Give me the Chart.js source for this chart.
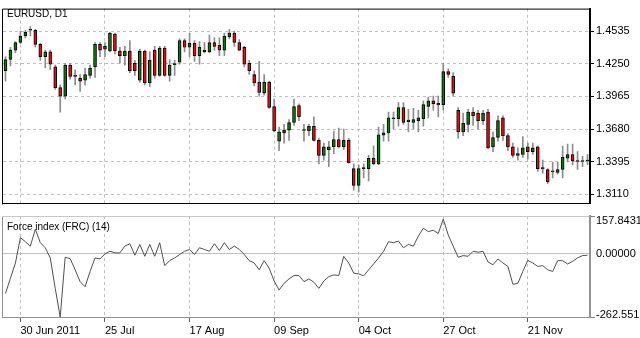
<!DOCTYPE html>
<html>
<head>
<meta charset="utf-8">
<script src="https://cdn.jsdelivr.net/npm/chart.js@4.4.0/dist/chart.umd.min.js"></script>
<style>
  html, body { margin: 0; padding: 0; background: #fff; }
  #wrap { position: relative; width: 640px; height: 338px; overflow: hidden; font-family: 'Liberation Sans', Arial, sans-serif; }
  canvas { position: absolute; left: 0; }
  #main { top: 0; }
  #sub { top: 212px; }
  .title { position: absolute; left: 7px; font-size: 10px; line-height: 12px; color: #000; white-space: nowrap; }
</style>
</head>
<body>
<div id="wrap">
  <canvas id="main" width="640" height="212"></canvas>
  <canvas id="sub" width="640" height="126"></canvas>
  <div class="title" style="top:8px">EURUSD, D1</div>
  <div class="title" style="top:221px">Force index (FRC) (14)</div>
</div>
<script>
// Daily bars, 27 Jun - 07 Dec 2011
const days = [
    '27 Jun', '28 Jun', '29 Jun', '30 Jun',
    '01 Jul', '04 Jul', '05 Jul', '06 Jul', '07 Jul', '08 Jul', '11 Jul', '12 Jul', '13 Jul', '14 Jul', '15 Jul',
    '18 Jul', '19 Jul', '20 Jul', '21 Jul', '22 Jul', '25 Jul', '26 Jul', '27 Jul', '28 Jul', '29 Jul',
    '01 Aug', '02 Aug', '03 Aug', '04 Aug', '05 Aug', '08 Aug', '09 Aug', '10 Aug', '11 Aug', '12 Aug',
    '15 Aug', '16 Aug', '17 Aug', '18 Aug', '19 Aug', '22 Aug', '23 Aug', '24 Aug', '25 Aug', '26 Aug', '29 Aug', '30 Aug', '31 Aug',
    '01 Sep', '02 Sep', '05 Sep', '06 Sep', '07 Sep', '08 Sep', '09 Sep', '12 Sep', '13 Sep', '14 Sep', '15 Sep', '16 Sep',
    '19 Sep', '20 Sep', '21 Sep', '22 Sep', '23 Sep', '26 Sep', '27 Sep', '28 Sep', '29 Sep', '30 Sep',
    '03 Oct', '04 Oct', '05 Oct', '06 Oct', '07 Oct', '10 Oct', '11 Oct', '12 Oct', '13 Oct', '14 Oct',
    '17 Oct', '18 Oct', '19 Oct', '20 Oct', '21 Oct', '24 Oct', '25 Oct', '26 Oct', '27 Oct', '28 Oct', '31 Oct',
    '01 Nov', '02 Nov', '03 Nov', '04 Nov', '07 Nov', '08 Nov', '09 Nov', '10 Nov', '11 Nov',
    '14 Nov', '15 Nov', '16 Nov', '17 Nov', '18 Nov', '21 Nov', '22 Nov', '23 Nov', '24 Nov', '25 Nov', '28 Nov', '29 Nov', '30 Nov',
    '01 Dec', '02 Dec', '05 Dec', '06 Dec', '07 Dec'
];

const opens = [
    1.4189, 1.4287, 1.4369, 1.4435, 1.4492, 1.4542, 1.4542, 1.4419, 1.4312, 1.4353,
    1.4222, 1.4041, 1.3967, 1.4238, 1.4143, 1.4123, 1.4107, 1.4148, 1.4222, 1.4419,
    1.4402, 1.4361, 1.4509, 1.4361, 1.4320, 1.4361, 1.4254, 1.4107, 1.4361, 1.4082,
    1.4369, 1.4148, 1.4386, 1.4148, 1.4242, 1.4263, 1.4451, 1.4394, 1.4427, 1.4320,
    1.4369, 1.4353, 1.4435, 1.4410, 1.4369, 1.4484, 1.4517, 1.4435, 1.4394, 1.4254,
    1.4156, 1.4090, 1.3992, 1.4090, 1.3877, 1.3573, 1.3647, 1.3671, 1.3737, 1.3885,
    1.3667, 1.3663, 1.3704, 1.3581, 1.3450, 1.3499, 1.3524, 1.3589, 1.3524, 1.3581,
    1.3335, 1.3187, 1.3335, 1.3335, 1.3425, 1.3376, 1.3626, 1.3647, 1.3770, 1.3770,
    1.3868, 1.3745, 1.3737, 1.3754, 1.3770, 1.3877, 1.3926, 1.3904, 1.3893, 1.4181,
    1.4139, 1.3844, 1.3655, 1.3721, 1.3827, 1.3819, 1.3754, 1.3827, 1.3524, 1.3606,
    1.3778, 1.3622, 1.3524, 1.3450, 1.3458, 1.3524, 1.3483, 1.3524, 1.3343, 1.3327,
    1.3306, 1.3302, 1.3327, 1.3425, 1.3458, 1.3401, 1.3397, 1.3401
];
const highs = [
    1.4312, 1.4394, 1.4443, 1.4534, 1.4542, 1.4575, 1.4550, 1.4427, 1.4369, 1.4369,
    1.4238, 1.4066, 1.4254, 1.4254, 1.4197, 1.4156, 1.4213, 1.4238, 1.4435, 1.4435,
    1.4435, 1.4525, 1.4517, 1.4394, 1.4402, 1.4451, 1.4279, 1.4378, 1.4369, 1.4353,
    1.4402, 1.4402, 1.4402, 1.4287, 1.4279, 1.4468, 1.4468, 1.4517, 1.4451, 1.4443,
    1.4435, 1.4501, 1.4476, 1.4476, 1.4517, 1.4550, 1.4534, 1.4460, 1.4402, 1.4279,
    1.4189, 1.4271, 1.4156, 1.4098, 1.3942, 1.3696, 1.3721, 1.3762, 1.3942, 1.3901,
    1.3721, 1.3721, 1.3786, 1.3598, 1.3557, 1.3573, 1.3663, 1.3688, 1.3680, 1.3598,
    1.3376, 1.3368, 1.3376, 1.3450, 1.3532, 1.3696, 1.3721, 1.3827, 1.3827, 1.3910,
    1.3910, 1.3852, 1.3860, 1.3844, 1.3926, 1.3959, 1.3967, 1.3967, 1.4254, 1.4205,
    1.4172, 1.3868, 1.3819, 1.3852, 1.3868, 1.3844, 1.3844, 1.3852, 1.3655, 1.3795,
    1.3795, 1.3639, 1.3557, 1.3515, 1.3614, 1.3557, 1.3557, 1.3532, 1.3409, 1.3335,
    1.3392, 1.3392, 1.3532, 1.3548, 1.3548, 1.3483, 1.3442, 1.3458
];
const lows = [
    1.4098, 1.4230, 1.4345, 1.4427, 1.4476, 1.4492, 1.4394, 1.4279, 1.4213, 1.4197,
    1.4025, 1.3827, 1.3942, 1.4115, 1.4066, 1.4008, 1.4066, 1.4123, 1.4131, 1.4312,
    1.4312, 1.4353, 1.4336, 1.4254, 1.4238, 1.4172, 1.4148, 1.4090, 1.4066, 1.4049,
    1.4123, 1.4139, 1.4139, 1.4098, 1.4148, 1.4246, 1.4353, 1.4312, 1.4271, 1.4246,
    1.4345, 1.4345, 1.4369, 1.4320, 1.4320, 1.4468, 1.4402, 1.4361, 1.4222, 1.4156,
    1.4057, 1.3967, 1.3975, 1.3860, 1.3655, 1.3491, 1.3557, 1.3581, 1.3712, 1.3754,
    1.3573, 1.3622, 1.3573, 1.3376, 1.3409, 1.3351, 1.3466, 1.3515, 1.3499, 1.3384,
    1.3146, 1.3130, 1.3253, 1.3228, 1.3368, 1.3368, 1.3573, 1.3573, 1.3680, 1.3704,
    1.3721, 1.3655, 1.3680, 1.3655, 1.3704, 1.3778, 1.3844, 1.3786, 1.3844, 1.4131,
    1.3967, 1.3598, 1.3622, 1.3655, 1.3712, 1.3680, 1.3721, 1.3507, 1.3483, 1.3573,
    1.3581, 1.3491, 1.3433, 1.3409, 1.3433, 1.3417, 1.3458, 1.3310, 1.3294, 1.3203,
    1.3253, 1.3286, 1.3253, 1.3392, 1.3368, 1.3327, 1.3351, 1.3368
];
const closes = [
    1.4287, 1.4369, 1.4435, 1.4492, 1.4525, 1.4546, 1.4419, 1.4312, 1.4353, 1.4246,
    1.4041, 1.3967, 1.4238, 1.4139, 1.4139, 1.4098, 1.4156, 1.4213, 1.4419, 1.4369,
    1.4378, 1.4517, 1.4361, 1.4320, 1.4361, 1.4189, 1.4189, 1.4361, 1.4082, 1.4279,
    1.4148, 1.4386, 1.4148, 1.4238, 1.4246, 1.4451, 1.4394, 1.4427, 1.4320, 1.4394,
    1.4353, 1.4435, 1.4402, 1.4369, 1.4492, 1.4517, 1.4435, 1.4369, 1.4246, 1.4189,
    1.4082, 1.4000, 1.4090, 1.3868, 1.3663, 1.3655, 1.3671, 1.3737, 1.3877, 1.3786,
    1.3671, 1.3704, 1.3581, 1.3450, 1.3524, 1.3524, 1.3589, 1.3524, 1.3581, 1.3384,
    1.3187, 1.3335, 1.3339, 1.3425, 1.3376, 1.3630, 1.3647, 1.3778, 1.3774, 1.3868,
    1.3737, 1.3758, 1.3762, 1.3778, 1.3893, 1.3926, 1.3901, 1.3891, 1.4181, 1.4156,
    1.3992, 1.3655, 1.3729, 1.3827, 1.3795, 1.3754, 1.3819, 1.3515, 1.3606, 1.3754,
    1.3622, 1.3524, 1.3450, 1.3466, 1.3515, 1.3483, 1.3515, 1.3335, 1.3331, 1.3220,
    1.3310, 1.3327, 1.3433, 1.3458, 1.3401, 1.3397, 1.3401, 1.3405
];

// Force index (14) value of each bar
const forceIndex = [
    -164.5, -101, -37.8, 67.8, 50.9, 32.5, 102.9, 46.7, 25.6, -16.7,
    -143.4, -262.5, -14, -19.6, -66, -115.4, -136.6, -73, -16.7, -21,
    0, 11, 4.4, 4, 32.5, 42.5, -5.6, 39.5, -9.9, 39.5,
    -9.9, 46.7, -49, -28, -16.7, -2.7, 11, 18.4, -2.7, 25.6,
    18.4, 11, 42.5, 14, 46.7, 18.4, 32.5, 18.4, -2.7, -28,
    -37.8, -66, -28, -59, -112.6, -150.6, -122.3, -104, -90, -90,
    -115.4, -104, -118, -143.4, -112.6, -94.4, -87.2, -90, -9.9, -37.8,
    -80, -83, -91.4, -66, -42, -16.7, 11, 50.9, 46.7, 53.5,
    25.6, 39.5, 32.5, 74.6, 107, 93, 98.7, 84.7, 145, 79,
    32.5, -14, -7, -9.9, 11, 7, 11, -33.6, -45, -21,
    -37.8, -52, -126.5, -122.3, -73, -26.8, -37.8, -52, -49, -66,
    -73, -28, -28, -42, -31, -16.7, -7, -5.6
];

const tickDays = ['30 Jun', '25 Jul', '17 Aug', '09 Sep', '04 Oct', '27 Oct', '21 Nov'];
const tickLabels = ['30 Jun 2011', '25 Jul', '17 Aug', '09 Sep', '04 Oct', '27 Oct', '21 Nov'];
const priceTicks = [1.4535, 1.4250, 1.3965, 1.3680, 1.3395, 1.3110];
const forceTicks = [157.8431, 0, -262.551];
const forceTickLabels = ['157.8431', '0.00000', '-262.551'];

const tickIdx = tickDays.map(d => days.indexOf(d));

Chart.defaults.font.family = "'Liberation Sans', Arial, sans-serif";
Chart.defaults.font.size = 11;
Chart.defaults.color = '#000';

// left (and top) edge of a pane
const framePlugin = {
    id: 'frame',
    afterDraw(chart, args, opts) {
        const ctx = chart.ctx;
        const a = chart.chartArea;
        ctx.save();
        ctx.lineWidth = 1;
        ctx.strokeStyle = opts.color;
        ctx.beginPath();
        ctx.moveTo(a.left - 0.5, a.bottom + 1);
        ctx.lineTo(a.left - 0.5, a.top + 0.5);
        if (opts.top) ctx.lineTo(a.right, a.top + 0.5);
        ctx.stroke();
        ctx.restore();
    }
};

// force index scale labels sit inside the pane edges
const forceLabelPlugin = {
    id: 'forceLabels',
    afterDraw(chart) {
        const scale = chart.scales.y;
        const ctx = chart.ctx;
        const shift = [5, 0, -2];
        ctx.save();
        ctx.font = "11px 'Liberation Sans', Arial, sans-serif";
        ctx.fillStyle = '#000';
        ctx.textBaseline = 'middle';
        ctx.textAlign = 'left';
        forceTicks.forEach((v, i) => {
            ctx.fillText(forceTickLabels[i], scale.left + 6, scale.getPixelForValue(v) + shift[i]);
        });
        ctx.restore();
    }
};

const dateTicks = scale => { scale.ticks = tickIdx.map(v => ({ value: v })); };

const bodies = days.map((d, i) => [opens[i], closes[i]]);
const wicks = days.map((d, i) => [lows[i], highs[i]]);
const bodyColors = days.map((d, i) => closes[i] > opens[i] ? '#008000' : (closes[i] < opens[i] ? '#ff0000' : '#000000'));

new Chart(document.getElementById('main'), {
    type: 'bar',
    data: {
        labels: days,
        datasets: [{
            data: bodies,
            backgroundColor: bodyColors,
            borderColor: '#000',
            borderWidth: 1,
            borderSkipped: false,
            barThickness: 3,
            minBarLength: 1,
            grouped: false,
            order: 0
        }, {
            data: wicks,
            backgroundColor: '#8c8c8c',
            borderWidth: 0,
            barThickness: 1,
            grouped: false,
            order: 1
        }]
    },
    options: {
        responsive: false,
        animation: false,
        events: [],
        layout: { padding: { left: 3, top: 2, right: 0, bottom: 3 } },
        plugins: {
            legend: { display: false },
            tooltip: { enabled: false },
            frame: { color: '#000', top: true }
        },
        scales: {
            x: {
                type: 'category',
                offset: true,
                afterBuildTicks: dateTicks,
                afterFit: scale => { scale.height = 0; },
                ticks: { display: false, autoSkip: false },
                grid: { color: '#c0c0c0', offset: false, drawTicks: false },
                border: { color: '#000', width: 1, dash: [3, 3] }
            },
            y: {
                position: 'right',
                min: 1.3031,
                max: 1.4731,
                bounds: 'data',
                afterBuildTicks: scale => { scale.ticks = priceTicks.map(v => ({ value: v })); },
                afterFit: scale => { scale.width = 50; },
                ticks: { padding: 2, color: '#000', callback: v => v.toFixed(4) },
                grid: { color: '#c0c0c0', tickLength: 4, tickColor: '#000', tickBorderDash: [] },
                border: { color: '#000', width: 2, dash: [3, 3] }
            }
        }
    },
    plugins: [framePlugin]
});

new Chart(document.getElementById('sub'), {
    type: 'line',
    data: {
        labels: days,
        datasets: [{
            data: forceIndex,
            borderColor: '#505050',
            borderWidth: 1,
            pointRadius: 0,
            tension: 0,
            fill: false
        }]
    },
    options: {
        responsive: false,
        animation: false,
        events: [],
        layout: { padding: { left: 3, top: 4, right: 0, bottom: 0 } },
        plugins: {
            legend: { display: false },
            tooltip: { enabled: false },
            frame: { color: '#909090', top: false }
        },
        scales: {
            x: {
                type: 'category',
                offset: true,
                afterBuildTicks: dateTicks,
                afterFit: scale => { scale.height = 21; },
                ticks: {
                    autoSkip: false,
                    maxRotation: 0,
                    align: 'start',
                    padding: 2,
                    color: '#000',
                    callback: v => tickLabels[tickIdx.indexOf(v)]
                },
                grid: { color: '#c0c0c0', offset: false, tickLength: 5, tickColor: '#606060', tickBorderDash: [] },
                border: { color: '#909090', width: 1, dash: [3, 3] }
            },
            y: {
                position: 'right',
                min: -262.551,
                max: 157.8431,
                bounds: 'data',
                afterBuildTicks: scale => { scale.ticks = forceTicks.map(v => ({ value: v })); },
                afterFit: scale => { scale.width = 50; },
                ticks: { display: false },
                grid: {
                    tickLength: 5,
                    color: c => c.tick && c.tick.value === 0 ? '#c0c0c0' : (c.tick && c.tick.value > 0 ? '#c8c8c8' : '#909090'),
                    tickColor: c => c.tick && c.tick.value === 0 ? 'rgba(0,0,0,0)' : '#808080'
                },
                border: { color: '#909090', width: 2 }
            }
        }
    },
    plugins: [framePlugin, forceLabelPlugin]
});
</script>
</body>
</html>
